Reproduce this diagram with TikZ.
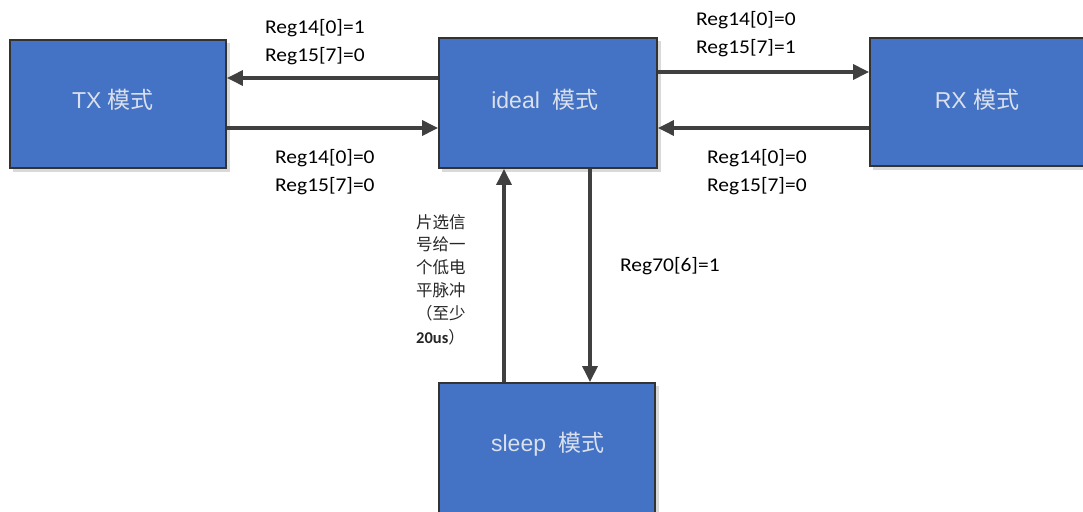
\documentclass[tikz,border=0pt]{standalone}
\usepackage{fontspec}
\setmainfont{Liberation Sans}
\newfontfamily\calfont{Carlito}
\newfontfamily\cjk{Noto Sans CJK SC}
\usetikzlibrary{arrows.meta}
\definecolor{boxblue}{RGB}{68,114,196}
\definecolor{boxtext}{RGB}{218,224,236}
\definecolor{linegray}{RGB}{64,64,64}
\tikzset{
  modebox/.style={draw=black!80, line width=1.8pt, fill=boxblue, inner sep=0pt},
  modetext/.style={text=boxtext, font=\fontsize{23}{26}\selectfont, inner sep=0pt},
  arr/.style={draw=linegray, line width=3.2pt, -{Triangle[length=16pt,width=15pt]}},
  reglab/.style={font=\calfont\fontsize{19.5}{28}\selectfont, align=left, inner sep=0pt, text=black},
  cnlab/.style={font=\cjk\fontsize{16.5}{22.5}\selectfont, align=left, inner sep=0pt, text=black!85}
}
\begin{document}
\begin{tikzpicture}[x=1pt,y=-1pt]
\useasboundingbox (0,0) rectangle (1083,511);
% shadows
\fill[black!15] (13,43) rectangle (230,172);
\fill[black!15] (442,41) rectangle (661,172);
\fill[black!15] (873,41) rectangle (1090,170);
\fill[black!15] (442,386) rectangle (659,530);
% boxes
\node[modebox, minimum width=216pt, minimum height=128pt] (tx) at (118,104) {};
\node[modebox, minimum width=218pt, minimum height=130pt] (ideal) at (548,103) {};
\node[modebox, minimum width=220pt, minimum height=128pt] (rx) at (980,102) {};
\node[modebox, minimum width=216pt, minimum height=150pt] (sleep) at (547,458) {};
% box texts
\node[modetext] (txt) at (113,100) {TX \cjk 模式};
\node[modetext] (idealt) at (545,100) {ideal\ \ \cjk 模式};
\node[modetext] (rxt) at (977,100) {RX \cjk 模式};
\node[modetext] (sleept) at (548,444) {sleep\ \ \cjk 模式};
% connectors
\draw[arr] (ideal.west |- 0,78) -- (tx.east |- 0,78);
\draw[arr] (tx.east |- 0,128) -- (ideal.west |- 0,128);
\draw[arr] (ideal.east |- 0,72) -- (rx.west |- 0,72);
\draw[arr] (rx.west |- 0,128) -- (ideal.east |- 0,128);
\draw[arr] (sleep.north -| 504,0) -- (ideal.south -| 504,0);
\draw[arr] (ideal.south -| 590,0) -- (sleep.north -| 590,0);
% labels
\node[reglab, anchor=west] (l1) at (265,42) {\scalebox{1.1}[1]{Reg14[0]=1}\\\scalebox{1.1}[1]{Reg15[7]=0}};
\node[reglab, anchor=west] (l2) at (275,172) {\scalebox{1.1}[1]{Reg14[0]=0}\\\scalebox{1.1}[1]{Reg15[7]=0}};
\node[reglab, anchor=west] (l3) at (696,34) {\scalebox{1.1}[1]{Reg14[0]=0}\\\scalebox{1.1}[1]{Reg15[7]=1}};
\node[reglab, anchor=west] (l4) at (707,172) {\scalebox{1.1}[1]{Reg14[0]=0}\\\scalebox{1.1}[1]{Reg15[7]=0}};
\node[reglab, anchor=west] (l5) at (620,266) {\scalebox{1.1}[1]{Reg70[6]=1}};
\node[cnlab, anchor=north west] (cn) at (416,214) {片选信\\号给一\\[0.5pt]个低电\\平脉冲\\[1pt]（至少\\[1pt]{\calfont\bfseries 20us}）};
\end{tikzpicture}
\end{document}
